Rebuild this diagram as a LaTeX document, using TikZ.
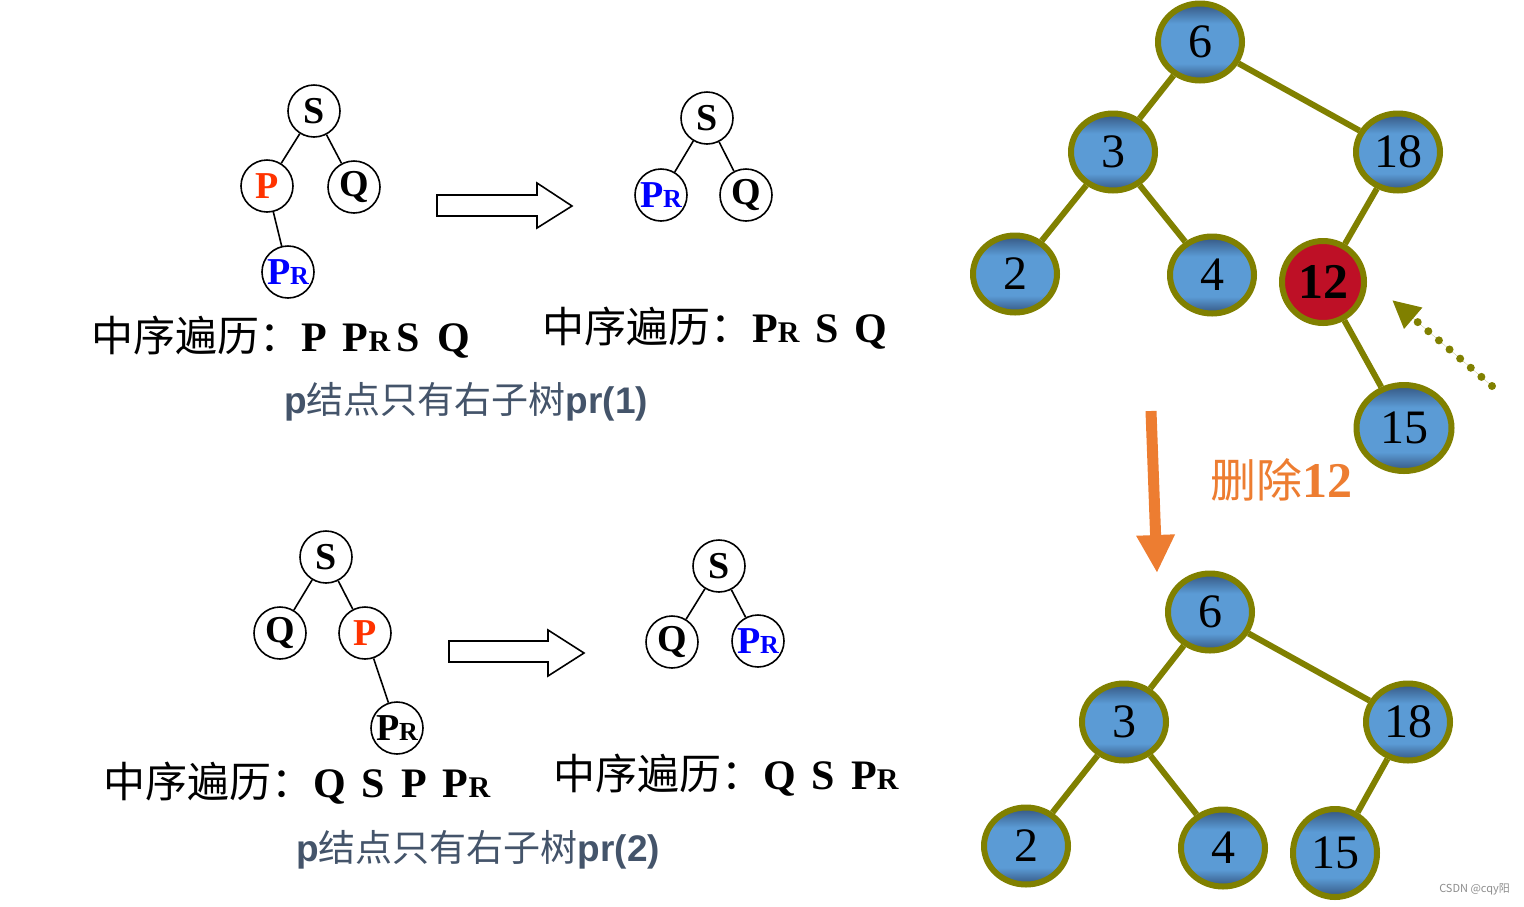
\documentclass[tikz,border=0pt]{standalone}
\usepackage{fontspec}
\setmainfont{Liberation Serif}
\setsansfont{Liberation Sans}
\newfontfamily\cjk{Noto Sans CJK SC}
\usetikzlibrary{arrows.meta,shapes.geometric}
\definecolor{olv}{RGB}{128,128,0}
\definecolor{nblue}{RGB}{91,155,213}
\definecolor{nblued}{RGB}{52,85,128}
\definecolor{nred}{RGB}{190,16,38}
\definecolor{pred}{RGB}{255,51,0}
\definecolor{subc}{RGB}{68,84,106}
\definecolor{orng}{RGB}{237,125,49}
\definecolor{pblue}{RGB}{0,0,255}
\pgfdeclareverticalshading{nodeshade}{100bp}{color(0bp)=(nblued); color(25bp)=(nblued); color(36bp)=(nblue); color(62bp)=(nblue); color(75bp)=(nblued); color(100bp)=(nblued)}
\newcommand\fs[1]{\fontsize{#1}{#1}\selectfont}
\newcommand\PRlab{P{\fs{26}R}}
\newcommand\PRtxt{P{\fs{30}R}}
\begin{document}
\begin{tikzpicture}[x=1pt,y=-1pt,
  sc/.style={circle,draw,line width=1.6pt,minimum size=52pt,inner sep=0pt,font=\fs{38}\bfseries},
  sedge/.style={line width=1.6pt},
  bn/.style={ellipse,draw=olv,line width=6pt,minimum width=84pt,minimum height=77pt,inner sep=0pt,
     shading=nodeshade,font=\fs{48}},
  rn/.style={circle,draw=olv,line width=6pt,minimum size=82pt,inner sep=0pt,fill=nred,font=\fs{50}\bfseries},
  bedge/.style={draw=olv,line width=6pt},
  trav/.style={anchor=base west,inner sep=0pt,font=\fs{42}},
  subt/.style={anchor=base,inner sep=0pt,text=subc,font=\fs{37}},
  hollow/.style={draw,line width=1.6pt,fill=white}
]
\useasboundingbox (0,0) rectangle (1524,906);

% ---------- tree 1 left ----------
\node[sc] (a1s) at (314,111) {S};
\node[sc,text=pred] (a1p) at (267,186) {P};
\node[sc] (a1q) at (354,187) {Q};
\node[sc,text=pblue] (a1r) at (288,272) {\PRlab};
\draw[sedge] (a1s) -- (a1p);
\draw[sedge] (a1s) -- (a1q);
\draw[sedge] (a1p) -- (a1r);

% ---------- tree 1 right ----------
\node[sc] (b1s) at (707,118) {S};
\node[sc,text=pblue] (b1r) at (661,195) {\PRlab};
\node[sc] (b1q) at (746,195) {Q};
\draw[sedge] (b1s) -- (b1r);
\draw[sedge] (b1s) -- (b1q);

% hollow arrow 1
\draw[hollow] (437,195) -- (537,195) -- (537,183) -- (572,206) -- (537,228) -- (537,216) -- (437,216) -- cycle;

% texts 1
\node[trav] (t1l) at (91,351) {{\cjk 中序遍历：}\textbf{P\hspace{16pt}\PRtxt\hspace{6pt}S\hspace{18pt}Q}};
\node[trav] (t1r) at (542,342) {{\cjk 中序遍历：}\textbf{\PRtxt\hspace{16pt}S\hspace{16pt}Q}};
\node[subt] (s1) at (466,413) {\textsf{\bfseries p}{\cjk 结点只有右子树}\textsf{\bfseries pr(1)}};

% ---------- tree 2 left ----------
\node[sc] (a2s) at (326,557) {S};
\node[sc] (a2q) at (280,633) {Q};
\node[sc,text=pred] (a2p) at (365,633) {P};
\node[sc] (a2r) at (397,728) {\PRlab};
\draw[sedge] (a2s) -- (a2q);
\draw[sedge] (a2s) -- (a2p);
\draw[sedge] (a2p) -- (a2r);

% ---------- tree 2 right ----------
\node[sc] (b2s) at (719,566) {S};
\node[sc] (b2q) at (672,642) {Q};
\node[sc,text=pblue] (b2r) at (758,641) {\PRlab};
\draw[sedge] (b2s) -- (b2q);
\draw[sedge] (b2s) -- (b2r);

% hollow arrow 2
\draw[hollow] (449,641) -- (548,641) -- (548,630) -- (584,653) -- (548,676) -- (548,662) -- (449,662) -- cycle;

% texts 2
\node[trav] (t2l) at (103,797) {{\cjk 中序遍历：}\textbf{Q\hspace{16pt}S\hspace{16pt}P\hspace{16pt}\PRtxt}};
\node[trav] (t2r) at (553,789) {{\cjk 中序遍历：}\textbf{Q\hspace{16pt}S\hspace{16pt}\PRtxt}};
\node[subt] (s2) at (478,861) {\textsf{\bfseries p}{\cjk 结点只有右子树}\textsf{\bfseries pr(2)}};

% ---------- big tree top ----------
\node[bn] (u6) at (1200,42) {6};
\node[bn] (u3) at (1113,152) {3};
\node[bn] (u18) at (1398,152) {18};
\node[bn] (u2) at (1015,274) {2};
\node[bn] (u4) at (1212,275) {4};
\node[rn] (u12) at (1323,282) {12};
\node[bn,minimum width=95pt,minimum height=86pt] (u15) at (1404,428) {15};
\draw[bedge] (u6) -- (u3);
\draw[bedge] (u6) -- (u18);
\draw[bedge] (u3) -- (u2);
\draw[bedge] (u3) -- (u4);
\draw[bedge] (u18) -- (u12);
\draw[bedge] (u12) -- (u15);

% dotted pointer
\coordinate (dp1) at (1492,386);
\coordinate (dp2) at (1392,300);
\draw[draw=olv,fill=olv,line width=8pt,line cap=round,dash pattern=on 0pt off 14pt,
  -{Triangle[length=28pt,width=26pt]}] (dp1) -- (dp2);

% orange arrow and label
\coordinate (oa1) at (1151,411);
\coordinate (oa2) at (1157,573);
\draw[draw=orng,fill=orng,line width=11pt,-{Triangle[length=38pt,width=36pt]}] (oa1) -- (oa2);
\node[anchor=base west,inner sep=0pt,text=orng,font=\fs{46}] (del) at (1210,497) {{\cjk 删除}{\fs{50}\bfseries 12}};

% ---------- big tree bottom ----------
\node[bn] (v6) at (1210,612) {6};
\node[bn] (v3) at (1124,722) {3};
\node[bn] (v18) at (1408,722) {18};
\node[bn] (v2) at (1026,846) {2};
\node[bn] (v4) at (1223,848) {4};
\node[bn,minimum width=84pt,minimum height=88pt] (v15) at (1335,853) {15};
\draw[bedge] (v6) -- (v3);
\draw[bedge] (v6) -- (v18);
\draw[bedge] (v3) -- (v2);
\draw[bedge] (v3) -- (v4);
\draw[bedge] (v18) -- (v15);

% watermark
\node[anchor=east,inner sep=0pt,text=black!45,font=\cjk\fs{11}] (wm) at (1510,889) {CSDN @cqy阳};
\end{tikzpicture}
\end{document}
